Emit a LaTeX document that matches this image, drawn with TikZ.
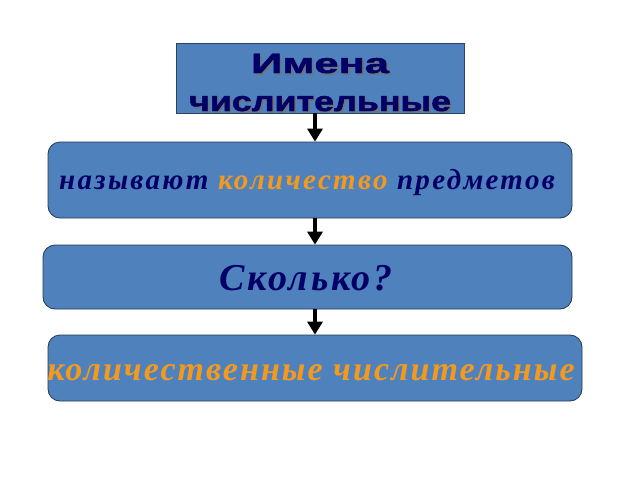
\documentclass[tikz,border=0pt]{standalone}
\usepackage{fontspec}
\setmainfont{Liberation Serif}
\newfontfamily\hdfont{Liberation Sans}[BoldFeatures={FakeBold=1.5}]
\usetikzlibrary{arrows.meta}
\definecolor{boxblue}{HTML}{4F81BD}
\definecolor{boxedge}{HTML}{3A5F8C}
\definecolor{navy}{HTML}{000066}
\definecolor{orng}{HTML}{F39A1E}
\tikzset{
  sqbox/.style={draw=boxedge!70!black, fill=boxblue, line width=0.8pt, minimum width=288pt, minimum height=70pt, inner sep=0pt},
  rbox/.style={draw=boxedge!60!black, fill=boxblue, line width=0.8pt, rounded corners=12pt, inner sep=0pt},
  flowarrow/.style={line width=4pt, -{Triangle[width=15pt,length=13pt]}},
  hdtext/.style={anchor=base, inner sep=0pt, font=\hdfont\bfseries\fontsize{28}{30}\selectfont},
}
\newcommand{\wide}[2]{\scalebox{#1}[1]{#2}}
\begin{document}
\begin{tikzpicture}[x=1pt,y=-1pt]
\useasboundingbox (0,0) rectangle (640,480);
\fill[white] (0,0) rectangle (640,480);
\node[sqbox] (top) at (320,78) {};
\node[hdtext, text=black!55] (sh1) at (321.5,74.5) {\wide{1.55}{Имена}};
\node[hdtext, text=black!55] (sh2) at (321.5,112.5) {\wide{1.28}{числительные}};
\node[hdtext, text=navy] (t1) at (320,73) {\wide{1.55}{Имена}};
\node[hdtext, text=navy] (t2) at (320,111) {\wide{1.28}{числительные}};
\node[rbox, minimum width=524pt, minimum height=76pt] (b2) at (310,180) {};
\node[anchor=base, inner sep=0pt, font=\bfseries\itshape\fontsize{29}{32}\selectfont\addfontfeatures{LetterSpace=8}, text=navy] (t3) at (307,189) {называют \textcolor{orng}{количество} предметов};
\node[rbox, minimum width=529pt, minimum height=64pt] (b3) at (307.5,277) {};
\node[anchor=base, inner sep=0pt, font=\bfseries\itshape\fontsize{38}{40}\selectfont\addfontfeatures{LetterSpace=7}, text=navy] (t4) at (306,290) {Сколько?};
\node[rbox, minimum width=534pt, minimum height=66pt] (b4) at (315,368) {};
\node[anchor=base, inner sep=0pt, font=\bfseries\itshape\fontsize{34}{36}\selectfont\addfontfeatures{LetterSpace=6}, text=orng] (t5) at (311,380) {количественные числительные};
\draw[flowarrow] ([xshift=-5pt]top.south) -- ([xshift=5pt]b2.north);
\draw[flowarrow] ([xshift=5pt]b2.south) -- ([xshift=7.5pt]b3.north);
\draw[flowarrow] ([xshift=7.5pt]b3.south) -- (b4.north);
\end{tikzpicture}
\end{document}
